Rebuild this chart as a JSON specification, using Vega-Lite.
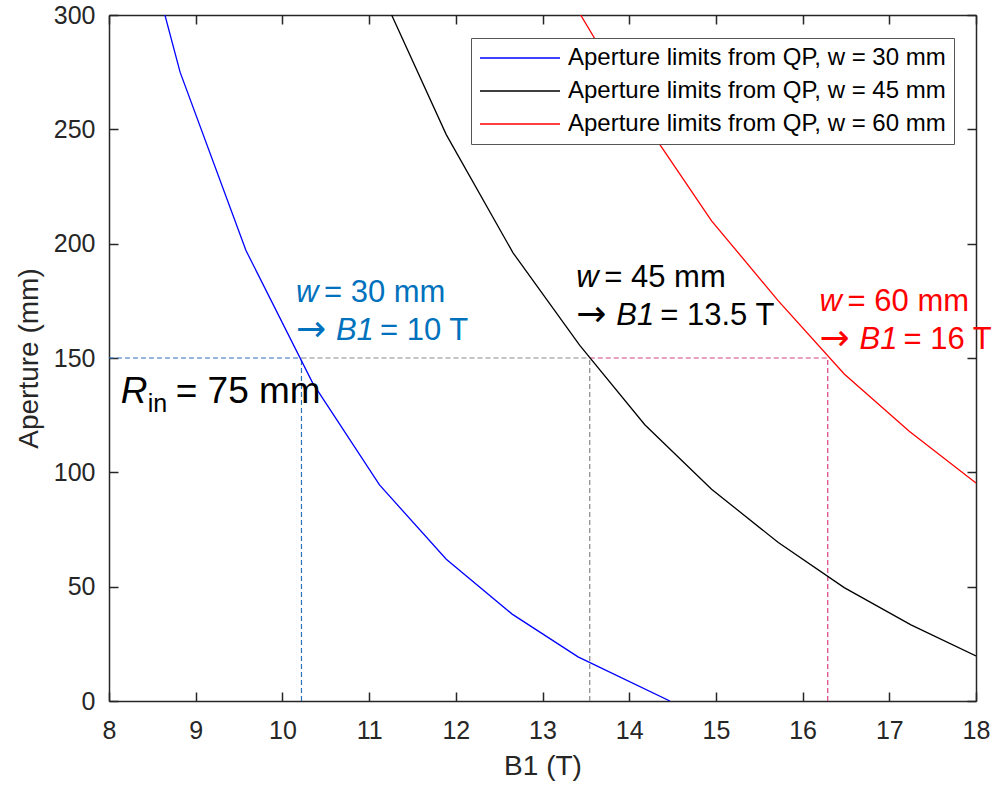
{
  "$schema": "https://vega.github.io/schema/vega-lite/v6.json",
  "width": 867,
  "height": 686,
  "autosize": "none",
  "padding": {"left": 109, "top": 15, "right": 24, "bottom": 85},
  "background": "white",
  "config": {
    "view": {"stroke": null},
    "font": "Liberation Sans",
    "axis": {
      "grid": false,
      "domainColor": "#262626",
      "domainWidth": 1.5,
      "tickColor": "#262626",
      "tickWidth": 1.5,
      "tickSize": -9,
      "labelFlush": false,
      "labelColor": "#262626",
      "labelFontSize": 25,
      "labelFont": "Liberation Sans",
      "titleFont": "Liberation Sans",
      "titleFontSize": 28,
      "titleFontWeight": "normal",
      "titleColor": "#262626"
    }
  },
  "datasets": {
    "curves": [
      {"B1": 8.645, "Aperture": 300, "series": "Aperture limits from QP, w = 30 mm"},
      {"B1": 8.82, "Aperture": 275, "series": "Aperture limits from QP, w = 30 mm"},
      {"B1": 9.58, "Aperture": 197, "series": "Aperture limits from QP, w = 30 mm"},
      {"B1": 10.35, "Aperture": 139, "series": "Aperture limits from QP, w = 30 mm"},
      {"B1": 11.12, "Aperture": 94.5, "series": "Aperture limits from QP, w = 30 mm"},
      {"B1": 11.89, "Aperture": 62, "series": "Aperture limits from QP, w = 30 mm"},
      {"B1": 12.65, "Aperture": 38, "series": "Aperture limits from QP, w = 30 mm"},
      {"B1": 13.41, "Aperture": 19.3, "series": "Aperture limits from QP, w = 30 mm"},
      {"B1": 14.47, "Aperture": 0, "series": "Aperture limits from QP, w = 30 mm"},
      {"B1": 11.26, "Aperture": 300, "series": "Aperture limits from QP, w = 45 mm"},
      {"B1": 11.89, "Aperture": 247.7, "series": "Aperture limits from QP, w = 45 mm"},
      {"B1": 12.66, "Aperture": 196, "series": "Aperture limits from QP, w = 45 mm"},
      {"B1": 13.43, "Aperture": 155.5, "series": "Aperture limits from QP, w = 45 mm"},
      {"B1": 14.18, "Aperture": 120.8, "series": "Aperture limits from QP, w = 45 mm"},
      {"B1": 14.95, "Aperture": 92.6, "series": "Aperture limits from QP, w = 45 mm"},
      {"B1": 15.72, "Aperture": 69.3, "series": "Aperture limits from QP, w = 45 mm"},
      {"B1": 16.48, "Aperture": 49.6, "series": "Aperture limits from QP, w = 45 mm"},
      {"B1": 17.25, "Aperture": 33.3, "series": "Aperture limits from QP, w = 45 mm"},
      {"B1": 18.0, "Aperture": 19.7, "series": "Aperture limits from QP, w = 45 mm"},
      {"B1": 13.44, "Aperture": 300, "series": "Aperture limits from QP, w = 60 mm"},
      {"B1": 14.18, "Aperture": 253, "series": "Aperture limits from QP, w = 60 mm"},
      {"B1": 14.95, "Aperture": 210, "series": "Aperture limits from QP, w = 60 mm"},
      {"B1": 15.72, "Aperture": 175, "series": "Aperture limits from QP, w = 60 mm"},
      {"B1": 16.48, "Aperture": 143, "series": "Aperture limits from QP, w = 60 mm"},
      {"B1": 17.23, "Aperture": 118, "series": "Aperture limits from QP, w = 60 mm"},
      {"B1": 18.0, "Aperture": 95.3, "series": "Aperture limits from QP, w = 60 mm"}
    ],
    "guides": [
      {"x": 8, "x2": 10.22, "y": 150, "y2": 150, "kind": "blue"},
      {"x": 10.22, "x2": 13.545, "y": 150, "y2": 150, "kind": "gray"},
      {"x": 13.545, "x2": 16.29, "y": 150, "y2": 150, "kind": "pink"},
      {"x": 10.22, "x2": 10.22, "y": 0, "y2": 150, "kind": "blue"},
      {"x": 13.545, "x2": 13.545, "y": 0, "y2": 150, "kind": "gray"},
      {"x": 16.29, "x2": 16.29, "y": 0, "y2": 150, "kind": "pink"}
    ],
    "notes": [
      {"w": "30", "x": 10.156, "y1": 174.7, "y2": 158, "t1": "= 30 mm", "t2": "= 10 T"},
      {"w": "45", "x": 13.39, "y1": 181, "y2": 164.6, "t1": "= 45 mm", "t2": "= 13.5 T"},
      {"w": "60", "x": 16.196, "y1": 170.4, "y2": 153.9, "t1": "= 60 mm", "t2": "= 16 T"}
    ]
  },
  "layer": [
    {
      "data": {"name": "guides"},
      "mark": {"type": "rule", "strokeDash": [5, 3], "strokeWidth": 1.2},
      "encoding": {
        "x": {"field": "x", "type": "quantitative", "scale": {"domain": [8, 18], "nice": false},
              "axis": {"orient": "top", "labels": false, "title": null, "values": [8, 9, 10, 11, 12, 13, 14, 15, 16, 17, 18]}},
        "x2": {"field": "x2"},
        "y": {"field": "y", "type": "quantitative", "scale": {"domain": [0, 300], "nice": false},
              "axis": {"orient": "right", "labels": false, "title": null, "values": [0, 50, 100, 150, 200, 250, 300]}},
        "y2": {"field": "y2"},
        "color": {"field": "kind", "type": "nominal", "scale": {"domain": ["blue", "gray", "pink"], "range": ["#2873b8", "#888888", "#d6407f"]}, "legend": null}
      }
    },
    {
      "data": {"name": "curves"},
      "mark": {"type": "line", "strokeWidth": 1.3, "clip": true},
      "encoding": {
        "x": {"field": "B1", "type": "quantitative",
              "axis": {"orient": "bottom", "title": "B1 (T)", "values": [8, 9, 10, 11, 12, 13, 14, 15, 16, 17, 18], "labelPadding": 26, "titlePadding": 9}},
        "y": {"field": "Aperture", "type": "quantitative",
              "axis": {"orient": "left", "title": "Aperture (mm)", "values": [0, 50, 100, 150, 200, 250, 300], "labelPadding": 23, "titlePadding": 10}},
        "color": {"field": "series", "type": "nominal",
                  "scale": {"domain": ["Aperture limits from QP, w = 30 mm", "Aperture limits from QP, w = 45 mm", "Aperture limits from QP, w = 60 mm"], "range": ["#0000FF", "#000000", "#FF0000"]},
                  "legend": {"title": null, "orient": "none", "legendX": 362, "legendY": 23, "symbolType": "stroke", "symbolSize": 6400, "symbolStrokeWidth": 1.5,
                             "labelFontSize": 24, "labelColor": "#000000", "labelOffset": 7, "padding": 8, "rowPadding": 9, "clipHeight": 24,
                             "strokeColor": "#555555", "fillColor": "#ffffff", "labelLimit": 600}}
      }
    },
    {
      "data": {"name": "notes"},
      "mark": {"type": "text", "fontSize": 31, "fontStyle": "italic", "align": "left", "baseline": "alphabetic"},
      "encoding": {
        "x": {"field": "x", "type": "quantitative", "axis": null},
        "y": {"field": "y1", "type": "quantitative", "axis": null},
        "text": {"value": "w"},
        "color": {"field": "w", "type": "nominal", "scale": {"domain": ["30", "45", "60"], "range": ["#0072BD", "#000000", "#FF0000"]}, "legend": null}
      }
    },
    {
      "data": {"name": "notes"},
      "mark": {"type": "text", "fontSize": 31, "align": "left", "baseline": "alphabetic", "dx": 28},
      "encoding": {
        "x": {"field": "x", "type": "quantitative", "axis": null},
        "y": {"field": "y1", "type": "quantitative", "axis": null},
        "text": {"field": "t1"},
        "color": {"field": "w", "type": "nominal", "scale": {"domain": ["30", "45", "60"], "range": ["#0072BD", "#000000", "#FF0000"]}, "legend": null}
      }
    },
    {
      "data": {"name": "notes"},
      "mark": {"type": "text", "fontSize": 36, "align": "left", "baseline": "alphabetic", "font": "DejaVu Sans", "dy": 1},
      "encoding": {
        "x": {"field": "x", "type": "quantitative", "axis": null},
        "y": {"field": "y2", "type": "quantitative", "axis": null},
        "text": {"value": "→"},
        "color": {"field": "w", "type": "nominal", "scale": {"domain": ["30", "45", "60"], "range": ["#0072BD", "#000000", "#FF0000"]}, "legend": null}
      }
    },
    {
      "data": {"name": "notes"},
      "mark": {"type": "text", "fontSize": 31, "fontStyle": "italic", "align": "left", "baseline": "alphabetic", "dx": 40},
      "encoding": {
        "x": {"field": "x", "type": "quantitative", "axis": null},
        "y": {"field": "y2", "type": "quantitative", "axis": null},
        "text": {"value": "B1"},
        "color": {"field": "w", "type": "nominal", "scale": {"domain": ["30", "45", "60"], "range": ["#0072BD", "#000000", "#FF0000"]}, "legend": null}
      }
    },
    {
      "data": {"name": "notes"},
      "mark": {"type": "text", "fontSize": 31, "align": "left", "baseline": "alphabetic", "dx": 84},
      "encoding": {
        "x": {"field": "x", "type": "quantitative", "axis": null},
        "y": {"field": "y2", "type": "quantitative", "axis": null},
        "text": {"field": "t2"},
        "color": {"field": "w", "type": "nominal", "scale": {"domain": ["30", "45", "60"], "range": ["#0072BD", "#000000", "#FF0000"]}, "legend": null}
      }
    },
    {
      "data": {"values": [{"sym": "R", "sub": "in", "rest": "= 75 mm"}]},
      "mark": {"type": "text", "fontSize": 37, "fontStyle": "italic", "align": "left", "baseline": "alphabetic", "color": "#000000"},
      "encoding": {
        "x": {"datum": 8.135, "type": "quantitative", "axis": null},
        "y": {"datum": 130.3, "type": "quantitative", "axis": null},
        "text": {"field": "sym"}
      }
    },
    {
      "data": {"values": [{"sym": "R", "sub": "in", "rest": "= 75 mm"}]},
      "mark": {"type": "text", "fontSize": 25, "align": "left", "baseline": "alphabetic", "color": "#000000", "dx": 27, "dy": 9},
      "encoding": {
        "x": {"datum": 8.135, "type": "quantitative", "axis": null},
        "y": {"datum": 130.3, "type": "quantitative", "axis": null},
        "text": {"field": "sub"}
      }
    },
    {
      "data": {"values": [{"sym": "R", "sub": "in", "rest": "= 75 mm"}]},
      "mark": {"type": "text", "fontSize": 37, "align": "left", "baseline": "alphabetic", "color": "#000000", "dx": 55},
      "encoding": {
        "x": {"datum": 8.135, "type": "quantitative", "axis": null},
        "y": {"datum": 130.3, "type": "quantitative", "axis": null},
        "text": {"field": "rest"}
      }
    }
  ],
  "resolve": {"axis": {"x": "independent", "y": "independent"}, "scale": {"color": "independent"}}
}
